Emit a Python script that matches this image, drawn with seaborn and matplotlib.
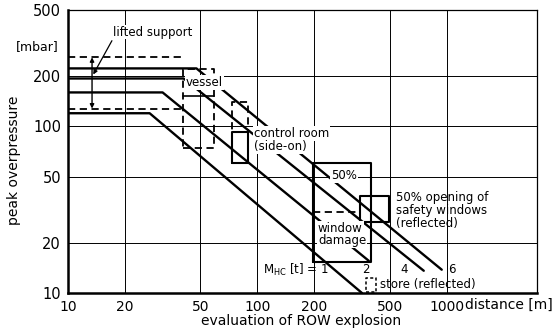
import numpy as np
import pandas as pd
import matplotlib
matplotlib.use("Agg")
import matplotlib.pyplot as plt
import matplotlib.transforms as mtransforms
from matplotlib.ticker import FixedLocator, NullFormatter
import seaborn as sns

# ---------------- data ----------------
masses = ["1", "2", "4", "6"]                 # M_HC [t]
plateau_mbar = [120, 160, 194, 223]           # flat part of each curve
knee_m = [27, 31.6, 40.8, 47.7]               # distance where decay starts
end_m = [357, 388, 757, 942]                  # distance where curve ends
end_mbar = [10, 15.6, 13.6, 13.8]             # pressure at curve end

x_ticks = [10, 20, 50, 100, 200, 500, 1000]
y_ticks = [10, 20, 50, 100, 200, 500]

# damage boxes (distance range, pressure range)
vessel_x = [40.3, 59.4]; vessel_y = [74.6, 220]; vessel_mid = 152
ctrl_x = [73.8, 89.8]; ctrl_dash_y = [92, 139.5]; ctrl_solid_y = [60.7, 92]
window_x = [197, 398]; window_y = [15.4, 60.7]; window_dash = 30.8
safety_x = [348, 495]; safety_y = [26.8, 38.4]
store_x = [375, 422]; store_y = [10.1, 12.3]
lifted_y = [128, 260]; lifted_x = 13.4

# ---------------- figure ----------------
sns.set_style("white")
plt.rcParams['font.family'] = ['DejaVu Sans']
plt.rcParams['text.color'] = 'black'
plt.rcParams['axes.labelcolor'] = 'black'
plt.rcParams['xtick.color'] = 'black'
plt.rcParams['ytick.color'] = 'black'

fig = plt.figure(figsize=(5.54, 3.31), dpi=100)
ax = fig.add_axes([0.1227, 0.1148, 0.8466, 0.855])

rows = []
for m, p, k, ex, ey in zip(masses, plateau_mbar, knee_m, end_m, end_mbar):
    rows += [(m, 10, p), (m, k, p), (m, ex, ey)]
df = pd.DataFrame(rows, columns=["M", "distance", "pressure"])

sns.lineplot(data=df, x="distance", y="pressure", hue="M",
             palette=["black"] * 4, sort=False, estimator=None,
             legend=False, linewidth=1.7, ax=ax, zorder=3)

ax.set_xscale("log")
ax.set_yscale("log")
ax.set_xlim(10, 3000)
ax.set_ylim(10, 500)

ax.set_xticks(x_ticks)
ax.set_xticklabels([str(v) for v in x_ticks])
ax.set_yticks(y_ticks)
ax.set_yticklabels([str(v) for v in y_ticks])
ax.xaxis.set_minor_locator(FixedLocator([30, 40, 60, 70, 80, 90, 300, 400, 600, 700, 800, 900, 2000]))
ax.yaxis.set_minor_locator(FixedLocator([30, 40, 60, 70, 80, 90, 300, 400]))
ax.xaxis.set_minor_formatter(NullFormatter())
ax.yaxis.set_minor_formatter(NullFormatter())
ax.tick_params(axis="both", which="major", direction="out", length=3, width=1,
               labelsize=10.5, pad=2, colors="black")
ax.tick_params(axis="x", which="major", labelsize=10)
ax.tick_params(axis="both", which="minor", direction="in", length=2.5, width=0.8,
               colors="black")

ax.grid(True, which="major", color="black", linewidth=0.7, zorder=1)
ax.set_axisbelow(True)
for s in ["left", "bottom"]:
    ax.spines[s].set_linewidth(1.8)
for s in ["top", "right"]:
    ax.spines[s].set_linewidth(0.9)
for s in ax.spines.values():
    s.set_color("black")

ax.set_xlabel("")
ax.set_ylabel("")

k = dict(color="black", zorder=4)
dash = dict(color="black", lw=1.3, ls=(0, (4, 2.5)), zorder=4)

def rect(xr, yr, **kw):
    ax.plot([xr[0], xr[1], xr[1], xr[0], xr[0]],
            [yr[0], yr[0], yr[1], yr[1], yr[0]], **kw)

# lifted support
ax.plot([10, vessel_x[0]], [lifted_y[1]] * 2, **dash)
ax.plot([10, vessel_x[0]], [lifted_y[0]] * 2, **dash)
ax.annotate("", xy=(lifted_x, lifted_y[0]), xytext=(lifted_x, lifted_y[1]),
            arrowprops=dict(arrowstyle="<|-|>", lw=1.0, color="black",
                            mutation_scale=6, shrinkA=0, shrinkB=0), zorder=4)

# vessel
rect(vessel_x, vessel_y, **dash)
ax.plot(vessel_x, [vessel_mid] * 2, lw=1.2, **k)

# control room
rect(ctrl_x, ctrl_dash_y, **dash)
rect(ctrl_x, ctrl_solid_y, lw=1.5, **k)

# window damage
rect(window_x, window_y, lw=1.5, **k)
ax.plot([window_x[0], safety_x[0]], [window_dash] * 2, **dash)

# safety windows
rect(safety_x, safety_y, lw=1.5, **k)

# store
rect(store_x, store_y, color="black", lw=1.1, ls=(0, (2, 1.5)), zorder=4)

# ---------------- texts ----------------
wb = dict(facecolor="white", edgecolor="none", pad=0.6)
fs = 8.5
ax.annotate("lifted support", xy=(13.6, 205), xytext=(17.3, 368),
            ha="left", va="center", fontsize=fs, bbox=wb, zorder=6,
            arrowprops=dict(arrowstyle="-|>", lw=0.9, color="black",
                            mutation_scale=6, shrinkA=1, shrinkB=0,
                            relpos=(0.0, 0.0)))
ax.text(52.6, 184, "vessel", ha="center", va="center", fontsize=fs, bbox=wb, zorder=6)
ax.text(96.4, 90.7, "control room", ha="left", va="center", fontsize=fs, bbox=wb, zorder=6)
ax.text(96.4, 75.8, "(side-on)", ha="left", va="center", fontsize=fs, bbox=wb, zorder=6)
ax.text(287, 50.7, "50%", ha="center", va="center", fontsize=fs, bbox=wb, zorder=6)
ax.text(539, 41.0, "50% opening of\nsafety windows\n(reflected)", ha="left", va="top",
        fontsize=fs, linespacing=1.0, zorder=6)
ax.text(209, 24.3, "window", ha="left", va="center", fontsize=fs, bbox=wb, zorder=6)
ax.text(209, 20.6, "damage", ha="left", va="center", fontsize=fs, bbox=wb, zorder=6)
ax.text(239, 13.8, r"M$_{\rm HC}$ [t] = 1", ha="right", va="center", fontsize=fs, zorder=6)
ax.text(375, 13.8, "2", ha="center", va="center", fontsize=fs, zorder=6)
ax.text(594, 13.8, "4", ha="center", va="center", fontsize=fs, zorder=6)
ax.text(1062, 13.8, "6", ha="center", va="center", fontsize=fs, zorder=6)
ax.text(444, 11.3, "store (reflected)", ha="left", va="center", fontsize=fs, zorder=6)

bx = mtransforms.blended_transform_factory(ax.transData, ax.transAxes)
ax.text(1250, -0.018, "distance [m]", transform=bx, ha="left", va="top", fontsize=10)
by = mtransforms.blended_transform_factory(ax.transAxes, ax.transData)
ax.text(-0.02, 300, "[mbar]", transform=by, ha="right", va="center", fontsize=9)

fig.text(14 / 554, 1 - 160 / 331, "peak overpressure", rotation=90,
         ha="center", va="center", fontsize=10)
fig.text(301 / 554, 1 - 321 / 331, "evaluation of ROW explosion",
         ha="center", va="center", fontsize=10)

fig.savefig("out.png", dpi=100)
